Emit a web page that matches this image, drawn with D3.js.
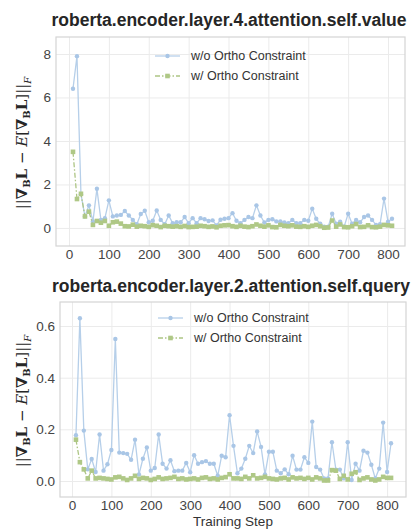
<!DOCTYPE html>
<html>
<head>
<meta charset="utf-8">
<script src="https://cdn.jsdelivr.net/npm/d3@7"></script>
<style>
  body{margin:0;background:#fff;}
  svg{display:block;font-family:"Liberation Sans",Arial,sans-serif;}
</style>
</head>
<body>
<svg id="chart" width="412" height="529"></svg>
<script>
// training steps 10..810
const steps=[10,20,30,40,50,60,70,80,90,100,110,120,130,140,150,160,170,180,190,200,
  210,220,230,240,250,260,270,280,290,300,310,320,330,340,350,360,370,380,390,400,
  410,420,430,440,450,460,470,480,490,500,510,520,530,540,550,560,570,580,590,600,
  610,620,630,640,650,660,670,680,690,700,710,720,730,740,750,760,770,780,790,800,810]

// layer.4 value
const valueNoOrtho=[6.4,7.9,1.55,0.53,1.04,0.3,1.8,0.37,0.45,1.27,
  0.53,0.57,0.6,0.78,0.57,0.37,0.17,0.64,0.79,0.26,
  0.33,0.8,0.37,0.17,0.57,0.22,0.26,0.26,0.5,0.22,
  0.45,0.22,0.45,0.4,0.32,0.35,0.12,0.38,0.42,0.45,
  0.68,0.33,0.22,0.37,0.5,0.45,1.04,0.57,0.25,0.37,
  0.4,0.3,0.3,0.25,0.22,0.37,0.22,0.22,0.37,0.33,
  0.88,0.42,0.19,0.06,0.06,0.65,0.19,0.29,0.06,0.65,
  0.19,0.37,0.26,0.5,0.57,0.37,0.14,0.17,1.35,0.29,0.42]
const valueOrtho=[3.5,1.33,1.57,0.53,0.75,0.14,0.32,0.24,0.32,0.1,
  0.26,0.29,0.2,0.08,0.07,0.15,0.06,0.1,0.08,0.05,
  0.13,0.1,0.04,0.1,0.08,0.06,0.08,0.05,0.09,0.04,
  0.05,0.06,0.1,0.08,0.05,0.07,0.03,0.1,0.12,0.13,
  0.08,0.05,0.1,0.06,0.04,0.08,0.16,0.1,0.06,0.12,
  0.04,0.03,0.14,0.1,0.08,0.12,0.06,0.05,0.08,0.05,
  0.1,0.14,0.08,0.01,0.02,0.34,0.06,0.16,0.04,0.03,
  0.08,0.18,0.04,0.05,0.12,0.04,0.03,0.06,0.14,0.12,0.1]

// layer.2 query
const queryNoOrtho=[0.177,0.63,0.195,0.045,0.085,0.035,0.18,0.04,0.065,0.12,
  0.55,0.11,0.108,0.105,0.082,0.16,0.025,0.086,0.13,0.04,
  0.05,0.18,0.067,0.048,0.08,0.038,0.04,0.04,0.07,0.034,
  0.1,0.067,0.073,0.077,0.067,0.067,0.02,0.098,0.092,0.255,
  0.136,0.03,0.048,0.086,0.136,0.108,0.192,0.132,0.025,0.113,
  0.113,0.04,0.03,0.045,0.026,0.098,0.044,0.044,0.092,0.07,
  0.23,0.054,0.044,0.01,0.01,0.15,0.044,0.044,0.01,0.15,
  0.004,0.067,0.04,0.117,0.11,0.063,0.01,0.048,0.226,0.035,0.146]
const queryOrtho=[0.16,0.073,0.045,0.01,0.04,0.01,0.012,0.01,0.008,0.006,
  0.014,0.016,0.01,0.004,0.01,0.02,0.008,0.012,0.01,0.004,
  0.008,0.014,0.008,0.01,0.012,0.016,0.008,0.01,0.006,0.008,
  0.01,0.006,0.012,0.014,0.008,0.01,0.006,0.012,0.015,0.026,
  0.01,0.01,0.008,0.016,0.01,0.022,0.01,0.012,0.016,0.01,
  0.008,0.006,0.01,0.012,0.006,0.014,0.01,0.012,0.008,0.012,
  0.006,0.014,0.01,0.002,0.002,0.042,0.04,0.008,0.02,0.006,
  0.028,0.034,0.004,0.01,0.014,0.006,0.002,0.006,0.016,0.012,0.012]

const xTicks=[0,100,200,300,400,500,600,700,800]
const legendLabels=['w/o Ortho Constraint','w/ Ortho Constraint']

const svg=d3.select('#chart')
const blue='#b6cfe9', blueDot='#a9c6e6'
const green='#adc584', greenDot='#afc886'

function drawPanel(cfg){
  const {left,right,top,bottom}=cfg
  const x=d3.scaleLinear().domain(cfg.xDomain).range([left,right])
  const y=d3.scaleLinear().domain(cfg.yDomain).range([bottom,top])
  const g=svg.append('g')

  // title
  g.append('text').attr('x',cfg.titleX).attr('y',cfg.titleY)
    .attr('text-anchor','middle').attr('font-size',17.5).attr('font-weight','bold')
    .attr('fill','#262626').text(cfg.title)

  // grid
  g.append('g').attr('transform',`translate(0,${bottom})`)
    .call(d3.axisBottom(x).tickValues(xTicks).tickSize(-(bottom-top)).tickFormat(''))
    .call(a=>a.select('.domain').remove())
    .call(a=>a.selectAll('line').attr('stroke','#ebebeb'))
  g.append('g').attr('transform',`translate(${left},0)`)
    .call(d3.axisLeft(y).tickValues(cfg.yTicks).tickSize(-(right-left)).tickFormat(''))
    .call(a=>a.select('.domain').remove())
    .call(a=>a.selectAll('line').attr('stroke','#ebebeb'))

  // tick labels
  g.append('g').attr('transform',`translate(0,${bottom})`)
    .call(d3.axisBottom(x).tickValues(xTicks).tickSize(0).tickPadding(3))
    .call(a=>a.select('.domain').remove())
    .call(a=>a.selectAll('text').attr('font-size',13.5).attr('fill','#444')
      .attr('font-family','Liberation Sans,Arial,sans-serif'))
  g.append('g').attr('transform',`translate(${left},0)`)
    .call(d3.axisLeft(y).tickValues(cfg.yTicks).tickSize(0).tickPadding(5).tickFormat(cfg.yFormat))
    .call(a=>a.select('.domain').remove())
    .call(a=>a.selectAll('text').attr('font-size',13.5).attr('fill','#444')
      .attr('font-family','Liberation Sans,Arial,sans-serif'))

  // frame
  g.append('rect').attr('x',left).attr('y',top).attr('width',right-left).attr('height',bottom-top)
    .attr('fill','none').attr('stroke','#d4d4d4').attr('stroke-width',1.2)

  const line=d3.line().x((d,i)=>x(steps[i])).y(d=>y(d))

  // w/o ortho
  g.append('path').datum(cfg.noOrtho).attr('d',line)
    .attr('fill','none').attr('stroke',blue).attr('stroke-width',1.3)
  g.append('g').selectAll('circle').data(cfg.noOrtho).enter().append('circle')
    .attr('cx',(d,i)=>x(steps[i])).attr('cy',d=>y(d)).attr('r',2.2)
    .attr('fill',blueDot)

  // w/ ortho
  g.append('path').datum(cfg.ortho).attr('d',line)
    .attr('fill','none').attr('stroke',green).attr('stroke-width',1.3)
    .attr('stroke-dasharray','5,2,1.5,2')
  g.append('g').selectAll('rect').data(cfg.ortho).enter().append('rect')
    .attr('x',(d,i)=>x(steps[i])-2.3).attr('y',d=>y(d)-2.3)
    .attr('width',4.6).attr('height',4.6).attr('fill',greenDot)

  // legend
  const lg=g.append('g').attr('transform',`translate(${cfg.legendX},${cfg.legendY})`)
  legendLabels.forEach((lab,i)=>{
    const row=lg.append('g').attr('transform',`translate(0,${i*20})`)
    row.append('line').attr('x1',0).attr('x2',25).attr('y1',0).attr('y2',0)
      .attr('stroke',i===0?blue:green).attr('stroke-width',1.3)
      .attr('stroke-dasharray',i===0?null:'5,2,1.5,2')
    if(i===0){
      row.append('circle').attr('cx',12.5).attr('cy',0).attr('r',2.2).attr('fill',blueDot)
    }else{
      row.append('rect').attr('x',10.2).attr('y',-2.3).attr('width',4.6).attr('height',4.6).attr('fill',greenDot)
    }
    row.append('text').attr('x',36).attr('y',0).attr('dy','0.35em')
      .attr('font-size',12.5).attr('fill','#333').text(lab)
  })

  // y label: ||∇_B L − E[∇_B L]||_F
  const cy=cfg.yLabelY
  const yl=g.append('text').attr('transform',`translate(${cfg.yLabelX},${cy}) rotate(-90)`)
    .attr('text-anchor','middle').attr('font-size',15).attr('fill','#262626')
    .attr('font-family','DejaVu Serif,serif')
  yl.append('tspan').text('||')
  yl.append('tspan').attr('font-weight','bold').text('∇')
  yl.append('tspan').attr('font-size',10).attr('dy',3).attr('font-weight','bold').text('B')
  yl.append('tspan').attr('dy',-3).attr('font-weight','bold').text('L')
  yl.append('tspan').text(' − ')
  yl.append('tspan').attr('font-style','italic').text('E')
  yl.append('tspan').text('[')
  yl.append('tspan').attr('font-weight','bold').text('∇')
  yl.append('tspan').attr('font-size',10).attr('dy',3).attr('font-weight','bold').text('B')
  yl.append('tspan').attr('dy',-3).attr('font-weight','bold').text('L')
  yl.append('tspan').text(']||')
  yl.append('tspan').attr('font-size',10).attr('dy',4).attr('font-style','italic').text('F')

  if(cfg.xLabel){
    g.append('text').attr('x',(left+right)/2).attr('y',cfg.xLabelY)
      .attr('text-anchor','middle').attr('font-size',13.5).attr('fill','#333').text(cfg.xLabel)
  }
}

drawPanel({
  title:'roberta.encoder.layer.4.attention.self.value',titleX:229,titleY:26,
  left:56,right:405,top:37,bottom:246,
  xDomain:[-32.6,842.6],yDomain:[-0.83,8.78],
  yTicks:[0,2,4,6,8],yFormat:d3.format('d'),
  noOrtho:valueNoOrtho,ortho:valueOrtho,
  legendX:155,legendY:56,yLabelX:27,yLabelY:143
})
drawPanel({
  title:'roberta.encoder.layer.2.attention.self.query',titleX:231,titleY:292,
  left:60,right:406,top:302,bottom:497,
  xDomain:[-30.5,848],yDomain:[-0.062,0.693],
  yTicks:[0,0.2,0.4,0.6],yFormat:d3.format('.1f'),
  noOrtho:queryNoOrtho,ortho:queryOrtho,
  legendX:158,legendY:318,yLabelX:27,yLabelY:401,
  xLabel:'Training Step',xLabelY:526
})
</script>
</body>
</html>
